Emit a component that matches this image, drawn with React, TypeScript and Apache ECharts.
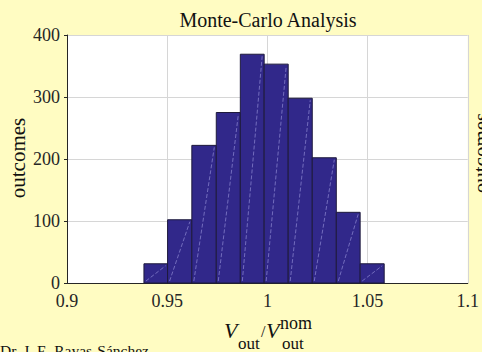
import React, { useEffect, useRef } from "react";
import * as echarts from "echarts";

// Histogram bins
const binLower = [0.9384, 0.9502, 0.9623, 0.9745, 0.9865, 0.9984, 1.0104, 1.0224, 1.0344, 1.0463];
const binUpper = [0.9502, 0.9623, 0.9745, 0.9865, 0.9984, 1.0104, 1.0224, 1.0344, 1.0463, 1.0583];
const counts = [31, 102, 222, 275, 369, 353, 298, 202, 114, 31];

const xTicks = { min: 0.9, max: 1.1, interval: 0.05 };
const yTicks = { min: 0, max: 400, interval: 100 };

const titleText = "Monte-Carlo Analysis";
const yLabel = "outcomes";
const author = "Dr. J. E. Rayas-Sánchez";

const SERIF = "'Liberation Serif', 'DejaVu Serif', serif";

export default function App() {
  const ref = useRef<HTMLDivElement>(null);
  useEffect(() => {
    if (!ref.current) return;
    const chart = echarts.init(ref.current, null, { renderer: "svg" });
    const data = counts.map((c, i) => [binLower[i], binUpper[i], c]);
    const txt = (x: number, y: number, text: string, size: number, extra: any = {}) => ({
      type: "text",
      x,
      y,
      silent: true,
      style: {
        text,
        fontFamily: SERIF,
        fontSize: size,
        fill: "#111",
        verticalAlign: "middle",
        align: "left",
        ...extra,
      },
    });
    chart.setOption({
      animation: false,
      backgroundColor: "#FFFCC2",
      grid: {
        left: 67,
        right: 11,
        top: 35,
        bottom: 69,
        show: true,
        backgroundColor: "#ffffff",
        borderWidth: 0,
      },
      xAxis: {
        type: "value",
        min: xTicks.min,
        max: xTicks.max,
        interval: xTicks.interval,
        axisLine: { show: true, onZero: false, lineStyle: { color: "#262626", width: 1 } },
        axisTick: { show: false },
        axisLabel: { color: "#262626", fontFamily: SERIF, fontSize: 18, margin: 9 },
        splitLine: { show: true, showMinLine: false, lineStyle: { color: "#d6d6d6", width: 1 } },
      },
      yAxis: {
        type: "value",
        min: yTicks.min,
        max: yTicks.max,
        interval: yTicks.interval,
        axisLine: { show: true, lineStyle: { color: "#262626", width: 1 } },
        axisTick: { show: true, length: 3, lineStyle: { color: "#262626" } },
        axisLabel: { color: "#262626", fontFamily: SERIF, fontSize: 18, margin: 7 },
        splitLine: { show: true, showMinLine: false, lineStyle: { color: "#d6d6d6", width: 1 } },
      },
      series: [
        {
          type: "custom",
          data,
          encode: { x: [0, 1], y: 2 },
          renderItem: (params: any, api: any) => {
            const lo = api.value(0);
            const hi = api.value(1);
            const c = api.value(2);
            const p0 = api.coord([lo, c]);
            const p1 = api.coord([hi, 0]);
            const w = p1[0] - p0[0];
            const h = p1[1] - p0[1];
            return {
              type: "group",
              children: [
                {
                  type: "rect",
                  shape: { x: p0[0], y: p0[1], width: w, height: h },
                  style: { fill: "#31288A", stroke: "#1E1A3C", lineWidth: 1 },
                },
                {
                  type: "line",
                  shape: { x1: p0[0] + 2, y1: p1[1] - 2, x2: p1[0] - 2, y2: p0[1] + 2 },
                  style: { stroke: "rgba(175,170,235,0.75)", lineWidth: 0.7, lineDash: [4, 2] },
                },
              ],
            };
          },
        },
      ],
      graphic: [
        txt(268, 20.4, titleText, 20, { align: "center" }),
        { ...txt(18, 158, yLabel, 21, { align: "center" }), rotation: Math.PI / 2 },
        { ...txt(481, 153, yLabel, 21, { align: "center" }), rotation: Math.PI / 2 },
        txt(0, 350, author, 15.5),
        txt(224, 330.7, "V", 22, { fontStyle: "italic" }),
        txt(238, 343.7, "out", 17),
        txt(261, 331, "/", 16),
        txt(266, 330.7, "V", 22, { fontStyle: "italic" }),
        txt(280, 323.3, "nom", 18),
        txt(282, 343.7, "out", 17),
      ],
    });
    return () => chart.dispose();
  }, []);
  return (
    <div
      ref={ref}
      style={{ position: "fixed", left: 0, top: 0, width: 482, height: 352 }}
    />
  );
}
